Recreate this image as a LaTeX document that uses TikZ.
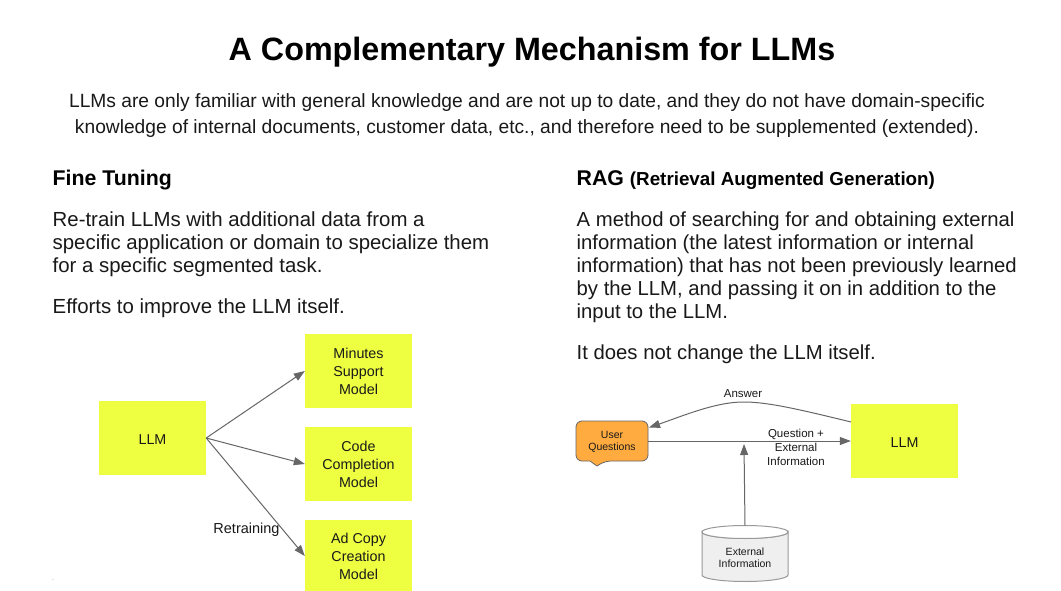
\documentclass[tikz,border=0pt]{standalone}
\usepackage{fontspec}
\setmainfont{Liberation Sans}
\usetikzlibrary{arrows.meta}
\definecolor{llmyellow}{HTML}{EEFF41}
\definecolor{lineg}{HTML}{666666}
\definecolor{orangeq}{HTML}{FFAB40}
\definecolor{cylg}{HTML}{EFEFEF}
\definecolor{cylline}{HTML}{999999}
\tikzset{
  x=1pt,y=-1pt,
  modelbox/.style={fill=llmyellow,minimum width=107pt,minimum height=74pt,inner sep=0pt,align=center,font=\fontsize{14.3}{17.9}\selectfont,text=black!90},
  llmbox/.style={modelbox,execute at begin node={\rule{0pt}{12pt}}},
  conn/.style={draw=lineg,line width=1pt,-{Triangle[length=11pt,width=8pt]}},
  bodyline/.style={anchor=base west,inner sep=0pt,font=\fontsize{20.4}{23}\selectfont,text=black!90},
  bodyright/.style={bodyline,font=\fontsize{20.3}{23}\selectfont},
  introline/.style={anchor=base,inner sep=0pt,font=\fontsize{19.2}{23}\selectfont,text=black!90},
  headline/.style={anchor=base west,inner sep=0pt,font=\fontsize{21.3}{25}\selectfont\bfseries,text=black},
  small/.style={inner sep=0pt,align=center,font=\fontsize{10.5}{12}\selectfont,text=black!90},
  smallb/.style={inner sep=0pt,align=center,font=\fontsize{11.5}{14}\selectfont,text=black!90},
  side/.style={inner sep=0pt,align=center,font=\fontsize{14.5}{18}\selectfont,text=black!90},
}
\begin{document}
\begin{tikzpicture}
\useasboundingbox (0,0) rectangle (1061,591);
\fill[white] (0,0) rectangle (1061,591);
% title and intro
\node[anchor=base,inner sep=0pt,font=\fontsize{32.3}{38}\selectfont\bfseries] (title) at (532,61) {A Complementary Mechanism for LLMs};
\node[introline] (i1) at (527,108) {LLMs are only familiar with general knowledge and are not up to date, and they do not have domain-specific};
\node[introline] (i2) at (527,134) {knowledge of internal documents, customer data, etc., and therefore need to be supplemented (extended).};
% left column
\node[headline] (h1) at (52.5,185.5) {Fine Tuning};
\node[bodyline] (l1) at (52.5,226) {Re-train LLMs with additional data from a};
\node[bodyline] (l2) at (52.5,249) {specific application or domain to specialize them};
\node[bodyline] (l3) at (52.5,272) {for a specific segmented task.};
\node[bodyline] (l4) at (52.5,313) {Efforts to improve the LLM itself.};
% right column
\node[headline] (h2) at (576.5,185.5) {RAG \fontsize{18.8}{25}\selectfont(Retrieval Augmented Generation)};
\node[bodyright] (r1) at (576.5,226) {A method of searching for and obtaining external};
\node[bodyright] (r2) at (576.5,249) {information (the latest information or internal};
\node[bodyright] (r3) at (576.5,272) {information) that has not been previously learned};
\node[bodyright] (r4) at (576.5,295) {by the LLM, and passing it on in addition to the};
\node[bodyright] (r5) at (576.5,318) {input to the LLM.};
\node[bodyright] (r6) at (576.5,359) {It does not change the LLM itself.};
% left diagram
\node[llmbox] (llmA) at (152.5,438) {LLM};
\node[modelbox] (m1) at (358.5,371) {Minutes\\Support\\Model};
\node[modelbox] (m2) at (358.5,464) {Code\\Completion\\Model};
\node[modelbox,minimum height=72pt] (m3) at (358.5,556) {Ad Copy\\Creation\\Model};
\draw[conn] (llmA.east) -- (m1.west);
\draw[conn] (llmA.east) -- (m2.west);
\draw[conn] (llmA.east) -- (m3.west);
\node[side] (retr) at (246.5,529.5) {Retraining};
\node[inner sep=0pt,font=\fontsize{5}{5}\selectfont,text=blue!60!black] (dot) at (53,580) {.};
% right diagram
\node[llmbox] (llmB) at (904.5,441) {LLM};
\path[fill=orangeq,draw=lineg,line width=0.8pt,rounded corners=6pt]
  (576,421) -- (648,421) -- (648,461) -- (605,461) [sharp corners] -- (597,466) -- (590,461) [rounded corners=6pt] -- (576,461) -- cycle;
\node[small] (q) at (612,441.5) {User\\Questions};
\path[fill=cylg,draw=cylline,line width=1pt]
  (702,532) arc[start angle=180,end angle=360,x radius=43,y radius=-6.5] -- (788,575)
  arc[start angle=0,end angle=180,x radius=43,y radius=6.5] -- cycle;
\path[fill=white,draw=cylline,line width=1pt]
  (745,532) ellipse[x radius=43,y radius=6.5];
\node[small] (ext) at (745,557.5) {External\\Information};
\coordinate (exttop) at (745,525.5);
\coordinate (qe) at (648,441);
\coordinate (qa) at (649,427.5);
\coordinate (join) at (744,444);
\coordinate (la) at (851,422);
\draw[conn] (qe) -- (llmB.west);
\draw[conn] (exttop) -- (join);
\draw[conn] (la) .. controls (790,407) and (765,402) .. (743,402) .. controls (715,402) and (680,417) .. (qa);
\node[smallb] (ans) at (743,394) {Answer};
\node[smallb] (qei) at (796,447) {Question +\\External\\Information};
\end{tikzpicture}
\end{document}
